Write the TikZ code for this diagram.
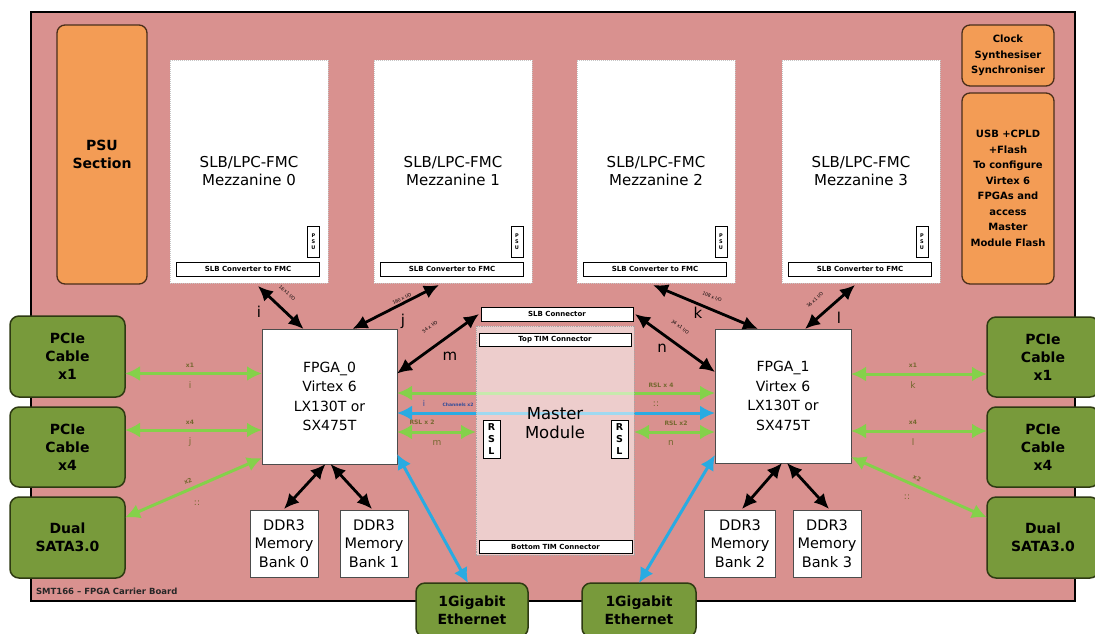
\documentclass[tikz,border=0pt]{standalone}
\usepackage{fontspec}
\setmainfont{DejaVu Sans}
\usetikzlibrary{arrows.meta}
\definecolor{boardc}{HTML}{D9918F}
\definecolor{orangec}{HTML}{F39C55}
\definecolor{orangeb}{HTML}{4A2E1A}
\definecolor{greenc}{HTML}{789A3B}
\definecolor{greenb}{HTML}{2E3A12}
\definecolor{garrow}{HTML}{84D14A}
\definecolor{barrow}{HTML}{29ABE2}
\definecolor{olivec}{HTML}{75682F}
\definecolor{chanc}{HTML}{2E4A9A}
\tikzset{
  every node/.style={inner sep=0pt, outer sep=0pt},
  boardbox/.style={draw=black, line width=1.6pt, fill=boardc},
  obox/.style={draw=orangeb, line width=1.3pt, fill=orangec, rounded corners=8pt, align=center, font=\fontsize{10}{15.5}\selectfont\bfseries},
  gbox/.style={draw=greenb, line width=1.5pt, fill=greenc, rounded corners=9pt, align=center, font=\fontsize{14}{18}\selectfont\bfseries},
  mezz/.style={fill=white, draw=gray!45, densely dotted, line width=1pt, align=center, font=\fontsize{15}{18}\selectfont},
  wbox/.style={fill=white, draw=gray!60!black, line width=0.6pt, align=center},
  barbox/.style={fill=white, draw=black, line width=0.8pt, font=\fontsize{7}{8}\selectfont\bfseries},
  tagbox/.style={fill=white, draw=black, line width=0.7pt, align=center, font=\fontsize{5}{6}\selectfont\bfseries},
  rslbox/.style={fill=white, draw=black, line width=0.8pt, align=center, font=\fontsize{9.5}{12}\selectfont\bfseries},
  blk/.style={<->, >={Latex[length=15pt,width=14pt]}, line width=2.8pt, black},
  grn/.style={<->, >={Latex[length=15pt,width=15pt]}, line width=3pt, garrow},
  blu/.style={<->, >={Latex[length=15pt,width=15pt]}, line width=3pt, barrow},
  bigl/.style={font=\fontsize{15}{15}\selectfont},
  smallb/.style={font=\fontsize{4.5}{5}\selectfont},
  glbl/.style={font=\fontsize{6}{6}\selectfont\bfseries, text=olivec},
  gletter/.style={font=\fontsize{9}{9}\selectfont, text=olivec},
}
\begin{document}
\begin{tikzpicture}[x=1pt,y=-1pt]
\useasboundingbox (0,0) rectangle (1095,633);
\fill[white] (0,0) rectangle (1095,633);
% board
\node[boardbox, minimum width=1044pt, minimum height=589pt] (board) at (553,306.5) {};
\node[anchor=west, font=\fontsize{8.5}{9}\selectfont\bfseries, text=black!85] (blabel) at (36,591) {SMT166 -- FPGA Carrier Board};
% orange
\node[obox, minimum width=90pt, minimum height=259pt, font=\fontsize{14}{18}\selectfont\bfseries] (psu) at (102,154.5) {PSU\\Section};
\node[obox, minimum width=92pt, minimum height=61pt] (clk) at (1008,55.5) {Clock\\Synthesiser\\Synchroniser};
\node[obox, minimum width=92pt, minimum height=191pt] (usb) at (1008,188.5) {USB +CPLD\\+Flash\\To configure\\Virtex 6\\FPGAs and\\access\\Master\\Module Flash};
% mezzanines
\node[mezz, minimum width=158pt, minimum height=223pt] (mz0) at (249,171.5) {SLB/LPC-FMC\\Mezzanine 0};
\node[mezz, minimum width=158pt, minimum height=223pt] (mz1) at (453,171.5) {SLB/LPC-FMC\\Mezzanine 1};
\node[mezz, minimum width=158pt, minimum height=223pt] (mz2) at (656,171.5) {SLB/LPC-FMC\\Mezzanine 2};
\node[mezz, minimum width=158pt, minimum height=223pt] (mz3) at (861,171.5) {SLB/LPC-FMC\\Mezzanine 3};
\foreach \n/\x in {0/248,1/452,2/655,3/860}{
  \node[barbox, minimum width=143pt, minimum height=14pt] (cv\n) at (\x,269) {SLB Converter to FMC};
}
\foreach \n/\x in {0/313.5,1/517,2/721,3/922}{
  \node[tagbox, minimum width=12pt, minimum height=31pt] (ptag\n) at (\x,241.5) {P\\S\\U};
}
% FPGAs
\node[wbox, minimum width=135pt, minimum height=135pt, font=\fontsize{14}{19.5}\selectfont] (fpga0) at (329.5,396.5) {FPGA\_0\\Virtex 6\\LX130T or\\SX475T};
\node[wbox, minimum width=136pt, minimum height=134pt, font=\fontsize{14}{19.5}\selectfont] (fpga1) at (783,396) {FPGA\_1\\Virtex 6\\LX130T or\\SX475T};
% DDR
\node[wbox, minimum width=68pt, minimum height=67pt, font=\fontsize{14.5}{18.5}\selectfont] (ddr0) at (284,543.5) {DDR3\\Memory\\Bank 0};
\node[wbox, minimum width=68pt, minimum height=67pt, font=\fontsize{14.5}{18.5}\selectfont] (ddr1) at (374,543.5) {DDR3\\Memory\\Bank 1};
\node[wbox, minimum width=71pt, minimum height=67pt, font=\fontsize{14.5}{18.5}\selectfont] (ddr2) at (740,543.5) {DDR3\\Memory\\Bank 2};
\node[wbox, minimum width=68pt, minimum height=67pt, font=\fontsize{14.5}{18.5}\selectfont] (ddr3) at (827,543.5) {DDR3\\Memory\\Bank 3};
% green boxes
\node[gbox, minimum width=115pt, minimum height=81pt] (pcl1) at (67.5,356.5) {PCIe\\Cable\\x1};
\node[gbox, minimum width=115pt, minimum height=80pt] (pcl4) at (67.5,447) {PCIe\\Cable\\x4};
\node[gbox, minimum width=115pt, minimum height=81pt] (satal) at (67.5,537.5) {Dual\\SATA3.0};
\node[gbox, minimum width=112pt, minimum height=80pt] (pcr1) at (1043,357) {PCIe\\Cable\\x1};
\node[gbox, minimum width=112pt, minimum height=80pt] (pcr4) at (1043,447) {PCIe\\Cable\\x4};
\node[gbox, minimum width=112pt, minimum height=81pt] (satar) at (1043,537.5) {Dual\\SATA3.0};
\node[gbox, minimum width=112pt, minimum height=54pt] (eth0) at (472,610) {1Gigabit\\Ethernet};
\node[gbox, minimum width=114pt, minimum height=54pt] (eth1) at (639,610) {1Gigabit\\Ethernet};
% center lines behind master module
\coordinate (c4) at ([yshift=3.5pt]fpga0.east);
\draw[grn] (c4) -- (c4 -| fpga1.west);
\coordinate (cb) at ([yshift=-16.5pt]fpga0.east);
\draw[blu] (cb) -- (cb -| fpga1.west);
% master module
\node[fill=white, fill opacity=0.55, draw=gray!70, densely dotted, line width=0.9pt, minimum width=158pt, minimum height=229pt] (master) at (555,440.5) {};
\node[font=\fontsize{16.5}{18.5}\selectfont, align=center] (mmtext) at (555,423) {Master\\Module};
\node[barbox, minimum width=152pt, minimum height=14pt] (slbc) at (557,314) {SLB Connector};
\node[barbox, minimum width=152pt, minimum height=13pt] (toptim) at (555,339.5) {Top TIM Connector};
\node[barbox, minimum width=153pt, minimum height=13pt] (bottim) at (555.5,546.5) {Bottom TIM Connector};
\node[rslbox, minimum width=17pt, minimum height=38pt] (rsll) at (491.5,439) {R\\S\\L};
\node[rslbox, minimum width=17pt, minimum height=38pt] (rslr) at (619.5,439) {R\\S\\L};
% RSL x2 arrows
\coordinate (c2l) at ([yshift=-35.5pt]fpga0.east);
\draw[grn] (c2l) -- (c2l -| master.west);
\coordinate (c2r) at ([yshift=-36pt]fpga1.west);
\draw[grn] (c2r -| master.east) -- (c2r);
% black arrows
\draw[blk] ([xshift=9pt,yshift=-3pt]mz0.south) -- ([xshift=-26pt]fpga0.north);
\draw[blk] ([xshift=-14pt,yshift=-2pt]mz1.south) -- ([xshift=23pt]fpga0.north);
\draw[blk] ([yshift=23pt]fpga0.east) -- ([xshift=-2pt]slbc.west);
\draw[blk] ([xshift=-3pt,yshift=-2pt]mz2.south) -- ([xshift=-25pt]fpga1.north);
\draw[blk] ([xshift=2pt]slbc.east) -- ([yshift=24pt]fpga1.west);
\draw[blk] ([xshift=-6pt,yshift=-2pt]mz3.south) -- ([xshift=22pt]fpga1.north);
\draw[blk] ([xshift=-4pt]fpga0.south) -- ([yshift=1pt]ddr0.north);
\draw[blk] ([xshift=1pt]fpga0.south) -- ([xshift=-2pt,yshift=1pt]ddr1.north);
\draw[blk] ([xshift=-1pt]fpga1.south) -- ([xshift=2pt,yshift=1pt]ddr2.north);
\draw[blk] ([xshift=4pt]fpga1.south) -- ([xshift=2pt,yshift=1pt]ddr3.north);
% green side arrows
\coordinate (gl1) at ([yshift=-17pt]pcl1.east);
\draw[grn] (gl1) -- (gl1 -| fpga0.west);
\coordinate (gl4) at ([yshift=17pt]pcl4.east);
\draw[grn] (gl4) -- (gl4 -| fpga0.west);
\draw[grn] ([yshift=20pt]satal.east) -- ([yshift=6pt]fpga0.south west);
\coordinate (gr1) at ([yshift=-17pt]pcr1.west);
\draw[grn] (gr1 -| fpga1.east) -- (gr1);
\coordinate (gr4) at ([yshift=16pt]pcr4.west);
\draw[grn] (gr4 -| fpga1.east) -- (gr4);
\draw[grn] ([yshift=6pt]fpga1.south east) -- ([yshift=20pt]satar.west);
% blue ethernet
\draw[blu] ([yshift=10pt]fpga0.south east) -- ([xshift=-4pt]eth0.north);
\draw[blu] ([yshift=8pt]fpga1.south west) -- (eth1.north);
% big letters
\node[bigl] (li) at (259,312) {i};
\node[bigl] (lj) at (403,321) {j};
\node[bigl] (lm) at (450,356) {m};
\node[bigl] (lk) at (698,313) {k};
\node[bigl] (ln) at (662,348) {n};
\node[bigl] (ll) at (839,318) {l};
% small arrow labels
\node[smallb, rotate=-43] (si) at (287,293) {16 x1 I/O};
\node[smallb, rotate=27] (sj) at (402,299) {160 x I/O};
\node[smallb, rotate=37] (sm) at (430,327) {54 x I/O};
\node[smallb, rotate=-23] (sk) at (712,297) {108 x I/O};
\node[smallb, rotate=-36] (sn) at (680,327) {34 x1 I/O};
\node[smallb, rotate=42] (sl) at (815,300) {16 x1 I/O};
% green labels
\node[glbl] (tx1l) at (190,365) {x1};
\node[gletter] (ti) at (190,385) {i};
\node[glbl] (tx4l) at (190,422) {x4};
\node[gletter] (tj) at (190,442) {j};
\node[glbl, rotate=23] (tx2l) at (188,481) {x2};
\node[gletter] (tsl) at (197,503) {::};
\node[glbl] (tx1r) at (913,365) {x1};
\node[gletter] (tk) at (913,385) {k};
\node[glbl] (tx4r) at (913,422) {x4};
\node[gletter] (tl) at (913,442) {l};
\node[glbl, rotate=-23] (tx2r) at (917,478) {x2};
\node[gletter] (tsr) at (907,497) {::};
\node[glbl] (trsl4) at (661,385) {RSL x 4};
\node[gletter] (tr4) at (656,404) {::};
\node[glbl] (trsl2l) at (422,422) {RSL x 2};
\node[gletter] (tm) at (437,443) {m};
\node[glbl] (trsl2r) at (676,423) {RSL x2};
\node[gletter] (tn) at (671,443) {n};
\node[font=\fontsize{8}{8}\selectfont, text=chanc] (tbi) at (424,403) {i};
\node[font=\fontsize{4.5}{5}\selectfont\bfseries, text=chanc] (tch) at (458,405) {Channels x2};
\end{tikzpicture}
\end{document}
